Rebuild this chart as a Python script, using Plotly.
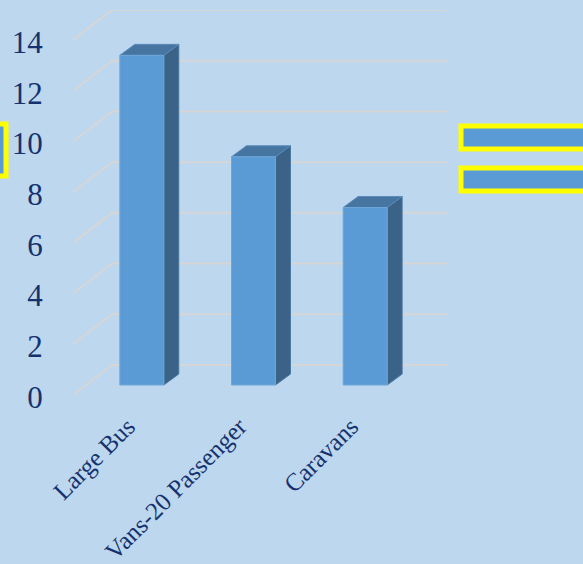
import plotly.graph_objects as go

categories = ["Large Bus", "Vans-20 Passenger", "Caravans"]
values = [13, 9, 7]
y_ticks = [0, 2, 4, 6, 8, 10, 12, 14]

BG = "#BDD7EE"
TEXT = "#15326E"
FRONT = "#5B9BD5"
SIDE = "#3A6387"
TOP = "#4675A2"
GRID = "#D6D6D6"

# oblique depth (data units) of the back wall
DX, DY = 0.349, 1.183
BAR_W = 0.394
# bar depth
BDX, BDY = 0.134, 0.434
# bar front plane offset
PX, PY = DX / 3, DY / 3
n = len(categories)

fig = go.Figure()

# gridlines: diagonal on floor/side + line on back wall
gx, gy = [], []
for v in y_ticks:
    gx += [0, DX, n + DX, None]
    gy += [v, v + DY, v + DY, None]
fig.add_trace(go.Scatter(x=gx, y=gy, mode="lines", line=dict(color=GRID, width=2),
                         hoverinfo="skip", showlegend=False))

for i, v in enumerate(values):
    xc = i + 0.5 + PX
    x0, x1 = xc - BAR_W / 2, xc + BAR_W / 2
    b, t = PY, PY + v
    # side face
    fig.add_trace(go.Scatter(x=[x1, x1 + BDX, x1 + BDX, x1, x1],
                             y=[b, b + BDY, t + BDY, t, b],
                             fill="toself", fillcolor=SIDE, mode="lines",
                             line=dict(color="#4A78A3", width=1),
                             hoverinfo="skip", showlegend=False))
    # top face
    fig.add_trace(go.Scatter(x=[x0, x0 + BDX, x1 + BDX, x1, x0],
                             y=[t, t + BDY, t + BDY, t, t],
                             fill="toself", fillcolor=TOP, mode="lines",
                             line=dict(color="#5A8BBB", width=1),
                             hoverinfo="skip", showlegend=False))
    # front face
    fig.add_trace(go.Scatter(x=[x0, x1, x1, x0, x0],
                             y=[b, b, t, t, b],
                             fill="toself", fillcolor=FRONT, mode="lines",
                             line=dict(color="#6FA6D8", width=1),
                             hoverinfo="skip", showlegend=False))

fig.update_layout(
    width=583, height=564,
    margin=dict(l=73, r=136, t=10, b=169),
    paper_bgcolor=BG, plot_bgcolor=BG,
    showlegend=False,
    font=dict(family="Liberation Serif, serif", color=TEXT),
)
fig.update_xaxes(range=[0, n + DX], showgrid=False, zeroline=False, showline=False,
                 automargin=False,
                 tickvals=[i + 0.49 for i in range(n)], ticktext=categories,
                 tickangle=-45, tickfont=dict(size=25, color=TEXT),
                 ticks="outside", ticklen=6, tickcolor="rgba(0,0,0,0)", fixedrange=True)
fig.update_yaxes(range=[0, 14 + DY], showgrid=False, zeroline=False, showline=False,
                 automargin=False,
                 tickvals=y_ticks, ticktext=[str(v) for v in y_ticks],
                 tickfont=dict(size=31, color=TEXT), ticklabelshift=2,
                 ticks="outside", ticklen=23, tickcolor="rgba(0,0,0,0)", fixedrange=True)

# highlighted legend-like boxes (decoration)
def px2paper_x(p):
    return (p - 73) / (583 - 73 - 136)

def px2paper_y(p):
    return (564 - 169 - p) / (564 - 10 - 169)

for (xa, ya, xb, yb) in [(461, 126, 600, 149), (461, 168, 600, 191), (-20, 124, 6, 176)]:
    fig.add_shape(type="rect", xref="paper", yref="paper",
                  x0=px2paper_x(xa), x1=px2paper_x(xb),
                  y0=px2paper_y(yb), y1=px2paper_y(ya),
                  line=dict(color="#FFFF00", width=5), fillcolor=FRONT, layer="above")

fig.write_html("out.html", config={"displayModeBar": False},
               post_script="document.body.style.margin='0';document.body.style.overflow='hidden';")
